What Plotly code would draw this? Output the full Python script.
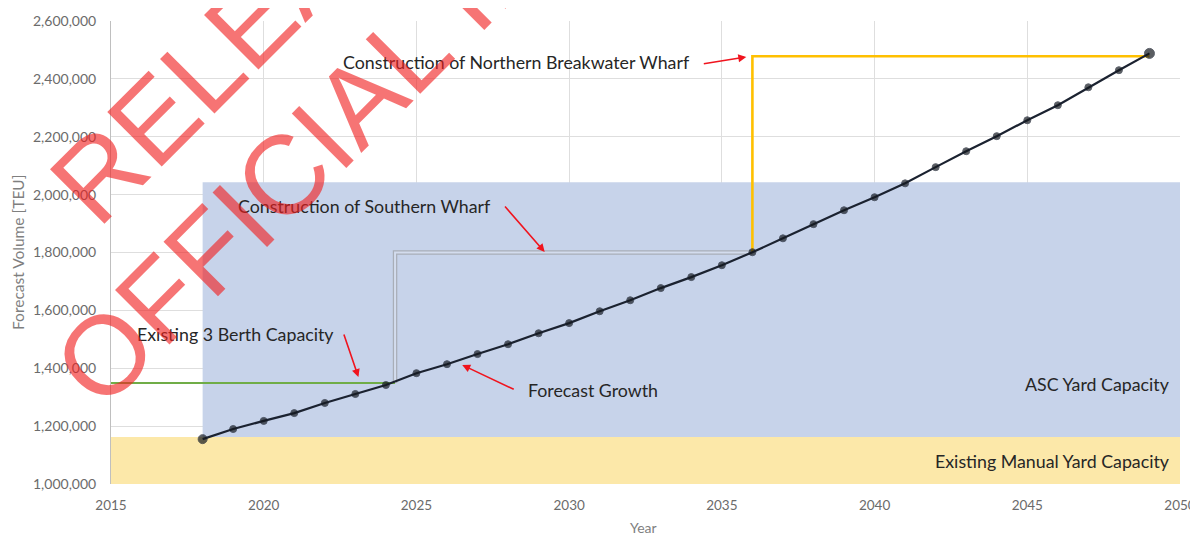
import plotly.graph_objects as go

# ---------------- data ----------------
years = list(range(2018, 2050))
forecast_teu = [1155000, 1190000, 1218000, 1245000, 1280000, 1311000, 1342000,
                1383000, 1414000, 1449000, 1483000, 1521000, 1556000, 1597000,
                1635000, 1677000, 1715000, 1756000, 1801000, 1849000, 1898000,
                1946000, 1991000, 2039000, 2095000, 2150000, 2202000, 2257000,
                2309000, 2371000, 2430000, 2488000]

manual_yard_x = [2015, 2050]
manual_yard_capacity = 1162000
asc_yard_x = [2018, 2050]
asc_yard_capacity = 2043000

berth_x = [2015, 2024.3]
berth_y = [1349000, 1349000]
southern_x = [2024.3, 2024.3, 2036]
southern_y = [1349000, 1800000, 1800000]
northern_x = [2036, 2036, 2049]
northern_y = [1801000, 2478000, 2478000]

y_ticks = [1000000, 1200000, 1400000, 1600000, 1800000, 2000000, 2200000, 2400000, 2600000]
x_ticks = [2015, 2020, 2025, 2030, 2035, 2040, 2045, 2050]

# ---------------- layout helpers ----------------
OFF = 8                      # page body margin
W, H = 1190, 530
L, R, T, B = 103, 18, 13, 54
PW, PH = W - L - R, H - T - B


def px_x(p):                 # screen pixel -> paper
    return (p - OFF - L) / PW


def px_y(p):
    return (H - B - (p - OFF)) / PH


FONT = "Lato"
TXT = "#262626"

fig = go.Figure()

# Existing manual yard capacity (yellow band)
fig.add_trace(go.Scatter(
    x=[manual_yard_x[0], manual_yard_x[1], manual_yard_x[1], manual_yard_x[0]],
    y=[y_ticks[0], y_ticks[0], manual_yard_capacity, manual_yard_capacity],
    fill="toself", fillcolor="#FCE8A9", line=dict(width=0), mode="lines",
    hoverinfo="skip", showlegend=False))

# ASC yard capacity (blue band)
fig.add_trace(go.Scatter(
    x=[asc_yard_x[0], asc_yard_x[1], asc_yard_x[1], asc_yard_x[0]],
    y=[manual_yard_capacity, manual_yard_capacity, asc_yard_capacity, asc_yard_capacity],
    fill="toself", fillcolor="#C7D3EA", line=dict(width=0), mode="lines",
    hoverinfo="skip", showlegend=False))

# Southern wharf (grey double line)
fig.add_trace(go.Scatter(x=southern_x, y=southern_y, mode="lines",
                         line=dict(color="#A9AEB8", width=4.5),
                         hoverinfo="skip", showlegend=False))
fig.add_trace(go.Scatter(x=southern_x, y=southern_y, mode="lines",
                         line=dict(color="#D3DCEE", width=2),
                         hoverinfo="skip", showlegend=False))

# Existing 3 berth capacity (green)
fig.add_trace(go.Scatter(x=berth_x, y=berth_y, mode="lines",
                         line=dict(color="#70AD47", width=2.2),
                         hoverinfo="skip", showlegend=False))

# Northern breakwater wharf (gold)
fig.add_trace(go.Scatter(x=northern_x, y=northern_y, mode="lines",
                         line=dict(color="#FFC000", width=2.6),
                         hoverinfo="skip", showlegend=False))

# Forecast growth
sizes = [7] * len(years)
sizes[0] = 9
sizes[-1] = 10
fig.add_trace(go.Scatter(x=years, y=forecast_teu, mode="lines+markers",
                         line=dict(color="#1B2230", width=2.2),
                         marker=dict(color="#15191F", size=sizes),
                         showlegend=False))

ann = []


def label(text, x_left, y_mid):
    ann.append(dict(text=text, xref="paper", yref="paper",
                    x=px_x(x_left), y=px_y(y_mid), xanchor="left", yanchor="middle",
                    showarrow=False, font=dict(family=FONT, size=17.8, color=TXT)))


label("Construction of Northern Breakwater Wharf", 341, 62)
label("Construction of Southern Wharf", 236, 206)
label("Existing 3 Berth Capacity", 135, 334)
label("Forecast Growth", 526, 390)
label("ASC Yard Capacity", 1023, 384)
label("Existing Manual Yard Capacity", 933, 461)


def arrow(hx, hy, ax, ay):
    ann.append(dict(text="", xref="x", yref="y", x=hx, y=hy, ax=ax, ay=ay,
                    showarrow=True, arrowhead=2, arrowsize=1, arrowwidth=1.6,
                    arrowcolor="#F0141E", standoff=0))


arrow(2035.8, 2475600, -44, 7)
arrow(2029.2, 1801700, -41, -47)
arrow(2023.1, 1369800, -15, -44)
arrow(2026.5, 1411200, 53, 25)

# watermark
WM = "rgba(240,30,30,0.62)"
ann.append(dict(text="RELEASED UNDER THE", xref="paper", yref="paper",
                x=px_x(523), y=px_y(-250), xanchor="center", yanchor="middle",
                textangle=-45, showarrow=False,
                font=dict(family="Liberation Sans", size=112, color=WM)))
ann.append(dict(text="OFFICIAL INFORMATION ACT", xref="paper", yref="paper",
                x=px_x(624), y=px_y(-165), xanchor="center", yanchor="middle",
                textangle=-45, showarrow=False,
                font=dict(family="Liberation Sans", size=112, color=WM)))

# axis titles
ann.append(dict(text="Forecast Volume [TEU]", xref="paper", yref="paper",
                x=px_x(18), y=px_y(253), xanchor="center", yanchor="middle",
                textangle=-90, showarrow=False,
                font=dict(family=FONT, size=15.5, color="#7F7F7F")))
ann.append(dict(text="Year", xref="paper", yref="paper",
                x=px_x(643), y=px_y(527), xanchor="center", yanchor="middle",
                showarrow=False, font=dict(family=FONT, size=14, color="#7F7F7F")))

fig.update_layout(
    width=W, height=H,
    margin=dict(l=L, r=R, t=T, b=B, autoexpand=False),
    paper_bgcolor="white", plot_bgcolor="white",
    annotations=ann,
    font=dict(family=FONT, color="#6B6B6B"),
    xaxis=dict(range=[2015, 2050], tickvals=x_ticks, ticktext=[str(v) for v in x_ticks],
               showgrid=True, gridcolor="#DEDEDE", gridwidth=1, zeroline=False,
               showline=False, ticks="", ticklen=0, automargin=False,
               ticklabelstandoff=11, ticklabeloverflow="allow",
               tickfont=dict(family=FONT, size=13.5, color="#6B6B6B"),
               layer="below traces"),
    yaxis=dict(range=[1000000, 2600000], tickvals=y_ticks,
               ticktext=[f"{v:,}" for v in y_ticks], automargin=False,
               showgrid=True, gridcolor="#DEDEDE", gridwidth=1, zeroline=False,
               showline=True, linecolor="#BFBFBF", linewidth=1, ticks="",
               ticklabelstandoff=11,
               tickfont=dict(family=FONT, size=14, color="#6B6B6B"),
               layer="below traces"),
)

fig.write_html("out.html")
